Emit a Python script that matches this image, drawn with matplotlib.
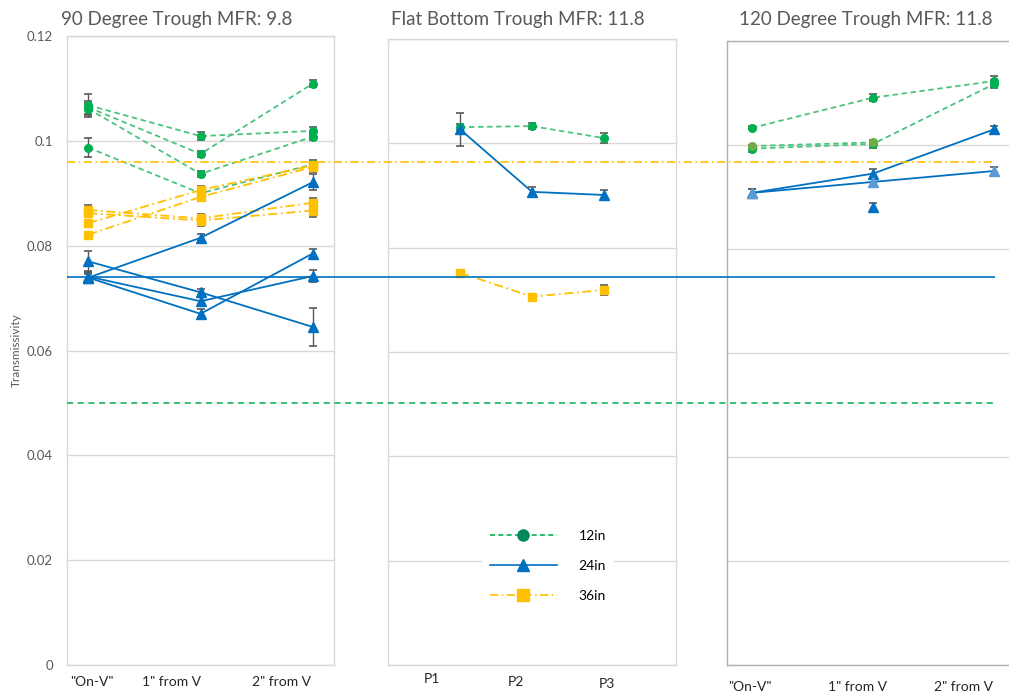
import matplotlib
matplotlib.use("Agg")
import matplotlib.pyplot as plt
from matplotlib.lines import Line2D

plt.rcParams['font.family'] = ['Lato', 'DejaVu Sans']

# ---- data: transmissivity by probe position, one list per series ----
p1_green = [[0.1068, 0.1009, 0.1019],
            [0.1064, 0.0975, 0.1109],
            [0.1061, 0.0937, 0.1008],
            [0.0987, 0.0900, 0.0955]]
p1_green_err = [[0.0022, 0.0007, 0.0007],
                [0.0012, 0.0006, 0.0007],
                [0.0012, 0.0006, 0.0007],
                [0.0018, 0.0006, 0.0007]]
p1_blue = [[0.0739, 0.0815, 0.0921],
           [0.0770, 0.0711, 0.0645],
           [0.0741, 0.0694, 0.0742],
           [0.0739, 0.0670, 0.0785]]
p1_blue_err = [[0.0007, 0.0007, 0.0015],
               [0.0020, 0.0007, 0.0036],
               [0.0010, 0.0008, 0.0012],
               [0.0008, 0.0010, 0.0009]]
p1_yellow = [[0.0868, 0.0852, 0.0882],
             [0.0862, 0.0848, 0.0867],
             [0.0843, 0.0906, 0.0953],
             [0.0821, 0.0893, 0.0950]]
p1_yellow_err = [[0.0010, 0.0008, 0.0008],
                 [0.0008, 0.0011, 0.0012],
                 [0.0006, 0.0007, 0.0010],
                 [0.0006, 0.0007, 0.0009]]

p2_green = [0.1031, 0.1033, 0.1010]
p2_green_err = [0.0006, 0.0006, 0.0009]
p2_blue = [0.1027, 0.0907, 0.0901]
p2_blue_err = [0.0032, 0.0009, 0.0009]
p2_yellow = [0.0752, 0.0706, 0.0719]
p2_yellow_err = [0.0003, 0.0005, 0.0009]

p3_green = [[0.1033, 0.1091, 0.1123],
            [0.0993, 0.1002, 0.1117]]
p3_green_err = [[0.0003, 0.0007, 0.0009],
                [0.0007, 0.0007, 0.0008]]
p3_olive = [0.0998, 0.1005]
p3_blue = [[0.0908, 0.0945, 0.1030],
           [0.0908, 0.0929, 0.0950]]
p3_blue_err = [[0.0007, 0.0009, 0.0007],
               [0.0007, 0.0007, 0.0007]]
p3_blue_single = 0.0881

# design targets drawn across all troughs
ref_12in = 0.050
ref_24in = 0.074
ref_36in = 0.096

trough_titles = ['90 Degree Trough MFR: 9.8', 'Flat Bottom Trough MFR: 11.8',
                 '120 Degree Trough MFR: 11.8']
v_labels = ['"On-V"', '1" from V', '2" from V']
p_labels = ['P1', 'P2', 'P3']
y_ticks = [0, 0.02, 0.04, 0.06, 0.08, 0.1, 0.12]
y_ticklabels = ['0', '0.02', '0.04', '0.06', '0.08', '0.1', '0.12']

GREEN = '#00B050'
GREEN_LINE = '#4cc37e'
OLIVE = '#70AD47'
BLUE = '#0070C0'
LIGHT_BLUE = '#5b9bd5'
YELLOW = '#FFC000'
GRID = '#d9d9d9'
ERR = '#595959'
TXT = '#595959'

W, H = 1009, 696
fig = plt.figure(figsize=(W / 100, H / 100), dpi=100)


def px_axes(left, top, right, bottom, **kw):
    return fig.add_axes([left / W, 1 - bottom / H, (right - left) / W, (bottom - top) / H], **kw)


def style_panel(ax, xlim, edge=GRID):
    ax.set_xlim(*xlim)
    ax.set_ylim(0, 0.12)
    ax.set_xticks([])
    ax.set_yticks(y_ticks)
    ax.yaxis.grid(True, color=GRID, lw=1)
    ax.set_axisbelow(True)
    ax.tick_params(axis='y', length=0, labelleft=False)
    for s in ax.spines.values():
        s.set_color(edge)
        s.set_linewidth(1)


def series(ax, x, y, err, kind, color=None, mcolor=None):
    if kind == 'green':
        ls, mk, ms, lc, mc = (0, (3, 2)), 'o', 5.5, GREEN_LINE, GREEN
    elif kind == 'blue':
        ls, mk, ms, lc, mc = '-', '^', 6.5, BLUE, BLUE
    else:
        ls, mk, ms, lc, mc = (0, (5, 2, 1, 2)), 's', 6, YELLOW, YELLOW
    if color:
        lc = color
    if mcolor:
        mc = mcolor
    ax.plot(x, y, ls=ls, color=lc, lw=1.3, zorder=3)
    if err is not None:
        ax.errorbar(x, y, yerr=err, fmt='none', ecolor=ERR, elinewidth=1,
                    capsize=3, capthick=1.2, zorder=4)
    ax.plot(x, y, ls='none', marker=mk, ms=ms, color=mc, mec=mc, zorder=5)


x3 = [0, 1, 2]

# 90 degree trough
ax1 = px_axes(67, 36, 334, 665)
style_panel(ax1, (-0.19, 2.19))
ax1.tick_params(axis='y', labelleft=True, labelsize=9.5, labelcolor=TXT, pad=10)
ax1.set_yticklabels(y_ticklabels)
for vals, err in zip(p1_green, p1_green_err):
    series(ax1, x3, vals, err, 'green')
for vals, err in zip(p1_yellow, p1_yellow_err):
    series(ax1, x3, vals, err, 'yellow')
for vals, err in zip(p1_blue, p1_blue_err):
    series(ax1, x3, vals, err, 'blue')

# flat bottom trough
ax2 = px_axes(388, 39, 676, 665)
style_panel(ax2, (-1, 3))
series(ax2, x3, p2_green, p2_green_err, 'green')
series(ax2, x3, p2_blue, p2_blue_err, 'blue')
series(ax2, x3, p2_yellow, p2_yellow_err, 'yellow')

# 120 degree trough (right edge runs past the figure)
ax3 = px_axes(727, 41, 1019, 665)
style_panel(ax3, (-0.207, 2.207), edge='#b0b0b0')
for vals, err in zip(p3_green, p3_green_err):
    series(ax3, x3, vals, err, 'green')
series(ax3, [0, 1], p3_olive, None, 'green', mcolor=OLIVE)
series(ax3, x3, p3_blue[0], p3_blue_err[0], 'blue')
series(ax3, x3, p3_blue[1], p3_blue_err[1], 'blue', mcolor=LIGHT_BLUE)
ax3.errorbar([1], [p3_blue_single], yerr=[0.0008], fmt='none', ecolor=ERR,
             elinewidth=1, capsize=3, capthick=1.2, zorder=4)
ax3.plot([1], [p3_blue_single], ls='none', marker='^', ms=6.5, color=BLUE, zorder=5)

# reference levels spanning all panels
axr = px_axes(67, 36, 995, 665)
axr.set_xlim(0, 1)
axr.set_ylim(0, 0.12)
axr.axis('off')
axr.patch.set_alpha(0)
axr.axhline(ref_36in, color=YELLOW, lw=1.2, ls=(0, (5, 2, 1, 2)))
axr.axhline(ref_24in, color=BLUE, lw=1.2)
axr.axhline(ref_12in, color=GREEN, lw=1.1, ls=(0, (4, 3)))

# titles
fig.text(61 / W, 1 - 19 / H, trough_titles[0], fontsize=13.5, color=TXT, va='center', ha='left')
fig.text(518 / W, 1 - 19 / H, trough_titles[1], fontsize=13.5, color=TXT, va='center', ha='center')
fig.text(866 / W, 1 - 20 / H, trough_titles[2], fontsize=13.5, color=TXT, va='center', ha='center')

# category labels
for lbl, xp in zip(v_labels, [92, 171, 281]):
    fig.text(xp / W, 1 - 682 / H, lbl, fontsize=10, color='#262626', ha='center', va='center')
for lbl, xp, yp in zip(p_labels, [432, 516, 607], [679, 682, 684]):
    fig.text(xp / W, 1 - yp / H, lbl, fontsize=10, color='#262626', ha='center', va='center')
for lbl, xp in zip(v_labels, [750, 857, 963]):
    fig.text(xp / W, 1 - 687 / H, lbl, fontsize=10, color='#262626', ha='center', va='center')

fig.text(16 / W, 1 - 350 / H, 'Transmissivity', fontsize=8.5, color=TXT, rotation=90,
         ha='center', va='center')

handles = [
    Line2D([], [], color=GREEN, ls=(0, (3, 2)), lw=1.2, marker='o', ms=8, mfc='#00875A', mec='#00875A'),
    Line2D([], [], color=BLUE, lw=1.2, marker='^', ms=9, mfc=BLUE, mec=BLUE),
    Line2D([], [], color=YELLOW, ls=(0, (5, 2, 1, 2)), lw=1.2, marker='s', ms=9, mfc=YELLOW, mec=YELLOW),
]
fig.legend(handles, ['12in', '24in', '36in'], loc='center', bbox_to_anchor=(548 / W, 1 - 566 / H),
           frameon=True, facecolor='white', edgecolor='none', framealpha=1, fontsize=10,
           handlelength=4.8, handletextpad=1.6, labelspacing=1.3, borderpad=0.6, fancybox=False)

fig.savefig('out.png', dpi=100, facecolor='white')
